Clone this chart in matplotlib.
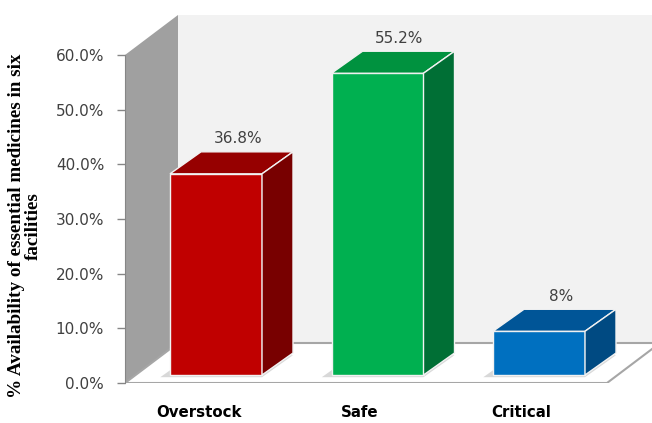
import matplotlib.pyplot as plt
from matplotlib.patches import Polygon

categories = ["Overstock", "Safe", "Critical"]
values = [36.8, 55.2, 8.0]
value_labels = ["36.8%", "55.2%", "8%"]
yticks = [0, 10, 20, 30, 40, 50, 60]

front = ["#C00000", "#00B050", "#0070C0"]
tops = ["#960000", "#00923F", "#005597"]
sides = ["#780000", "#006F35", "#004A82"]

# geometry of the fake 3d box (data units: x = category, y = percent)
px_x = 161.5          # pixels per category
px_y = 328 / 60       # pixels per percent
x0 = -80 / px_x       # left edge of the front plane
x_floor_end = 402 / px_x
wall_dx, wall_dy = 53 / px_x, 40 / px_y
bar_dx, bar_dy = 31 / px_x, 22 / px_y
shift_dx, shift_dy = 11 / px_x, 8 / px_y
bar_w = 92 / px_x

fig = plt.figure(figsize=(6.52, 4.23), dpi=100)
ax = fig.add_axes([125 / 652, 40 / 423, 527 / 652, 378 / 423])
ax.set_xlim(x0, x0 + 527 / px_x)
ax.set_ylim(0, 378 / px_y)

# walls and floor
ax.add_patch(Polygon([(x0, 0), (x0, 60), (x0 + wall_dx, 60 + wall_dy), (x0 + wall_dx, wall_dy)],
                     closed=True, fc="#A0A0A0", ec="none", zorder=1))
ax.add_patch(Polygon([(x0 + wall_dx, wall_dy), (x0 + wall_dx, 60 + wall_dy), (5, 60 + wall_dy), (5, wall_dy)],
                     closed=True, fc="#F2F2F2", ec="none", zorder=1))
ax.add_patch(Polygon([(x0, 0), (x_floor_end, 0), (x_floor_end + wall_dx, wall_dy), (x0 + wall_dx, wall_dy)],
                     closed=True, fc="white", ec="#A6A6A6", lw=1.5, zorder=2))
ax.plot([x0 + wall_dx, 5], [wall_dy, wall_dy], color="#A6A6A6", lw=1.2, zorder=2)

# bars
for i, v in enumerate(values):
    l = i - bar_w / 2 + shift_dx
    r = l + bar_w
    b = shift_dy
    t = b + v
    # soft shadow on the floor
    ax.add_patch(Polygon([(l - 0.06, b - 0.4), (r, b - 0.4), (r + bar_dx, b + bar_dy - 0.4), (l - 0.06 + bar_dx, b + bar_dy - 0.4)],
                         closed=True, fc="#BFBFBF", ec="none", alpha=0.6, zorder=3))
    ax.add_patch(Polygon([(l, b), (r, b), (r, t), (l, t)], closed=True,
                         fc=front[i], ec="#F2F2F2", lw=1, zorder=5))
    ax.add_patch(Polygon([(l, t), (r, t), (r + bar_dx, t + bar_dy), (l + bar_dx, t + bar_dy)], closed=True,
                         fc=tops[i], ec="#F2F2F2", lw=1, zorder=5))
    ax.add_patch(Polygon([(r, b), (r + bar_dx, b + bar_dy), (r + bar_dx, t + bar_dy), (r, t)], closed=True,
                         fc=sides[i], ec="#F2F2F2", lw=1, zorder=5))
    ax.text(i + shift_dx + bar_dx * 0.7, t + bar_dy + 2.4, value_labels[i], ha="center", va="center",
            fontsize=11, color="#404040", zorder=6)

# axes styling
for s in ["top", "right", "bottom"]:
    ax.spines[s].set_visible(False)
ax.spines["left"].set_bounds(0, 60)
ax.spines["left"].set_color("#868686")
ax.spines["left"].set_zorder(4)
ax.set_yticks(yticks)
ax.set_yticklabels([f"{t:.1f}%" for t in yticks])
ax.tick_params(axis="y", length=6, width=1, color="#868686", labelsize=11, labelcolor="#404040", pad=9)
ax.set_xticks([i - 0.04 for i in range(len(categories))])
ax.set_xticklabels(categories, fontweight="bold", fontsize=10.8)
ax.tick_params(axis="x", length=0, pad=16, labelcolor="black")

fig.text(25 / 652, 1 - 226 / 423, "% Availability of essential medicines in six\nfacilities",
         rotation=90, ha="center", va="center", multialignment="center",
         family="Liberation Serif", fontweight="bold", fontsize=13.8, linespacing=0.95)

fig.savefig("out.png", dpi=100)
